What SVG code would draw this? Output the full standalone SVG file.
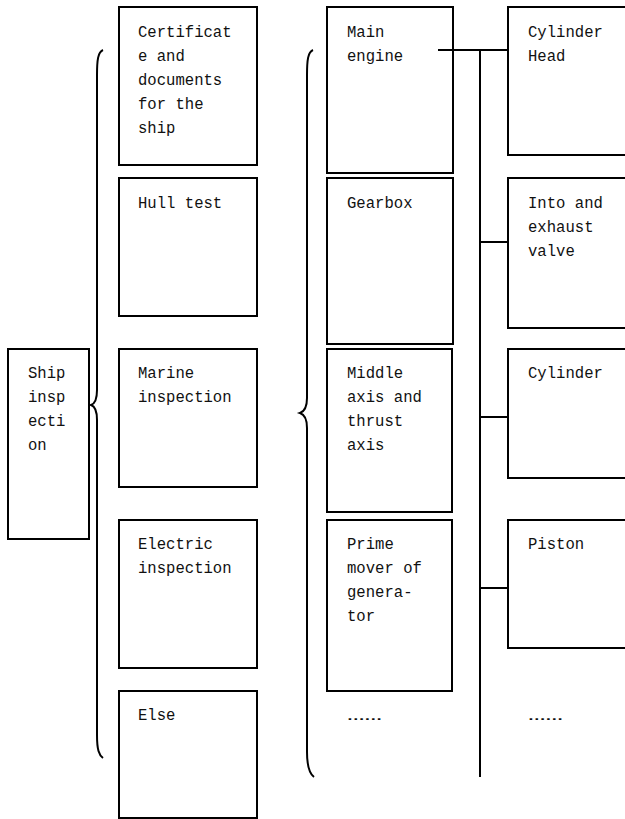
<svg xmlns="http://www.w3.org/2000/svg" width="625" height="819" viewBox="0 0 625 819">
<style>
.box{fill:#fff;stroke:#000;stroke-width:2}
.t{font-family:"Liberation Mono","DejaVu Sans Mono",monospace;font-size:15.6px;fill:#111}
.ln{fill:none;stroke:#000;stroke-width:2}
</style>
<rect width="625" height="819" fill="#fff"/>
<g id="ship">
<rect class="box" x="8" y="349" width="81" height="190"/>
<text class="t"><tspan x="28" y="378">Ship</tspan><tspan x="28" y="402">insp</tspan><tspan x="28" y="426">ecti</tspan><tspan x="28" y="450">on</tspan></text>
</g>
<g id="certificate">
<rect class="box" x="119" y="7" width="138" height="158"/>
<text class="t"><tspan x="138" y="37">Certificat</tspan><tspan x="138" y="61">e and</tspan><tspan x="138" y="85">documents</tspan><tspan x="138" y="109">for the</tspan><tspan x="138" y="133">ship</tspan></text>
</g>
<g id="hull">
<rect class="box" x="119" y="178" width="138" height="138"/>
<text class="t" x="138" y="208">Hull test</text>
</g>
<g id="marine">
<rect class="box" x="119" y="349" width="138" height="138"/>
<text class="t"><tspan x="138" y="378">Marine</tspan><tspan x="138" y="402">inspection</tspan></text>
</g>
<g id="electric">
<rect class="box" x="119" y="520" width="138" height="148"/>
<text class="t"><tspan x="138" y="549">Electric</tspan><tspan x="138" y="573">inspection</tspan></text>
</g>
<g id="else">
<rect class="box" x="119" y="691" width="138" height="127"/>
<text class="t" x="138" y="720">Else</text>
</g>
<g id="mainengine">
<rect class="box" x="327" y="7" width="126" height="166"/>
<text class="t"><tspan x="347" y="37">Main</tspan><tspan x="347" y="61">engine</tspan></text>
</g>
<g id="gearbox">
<rect class="box" x="327" y="178" width="126" height="166"/>
<text class="t" x="347" y="208">Gearbox</text>
</g>
<g id="middleaxis">
<rect class="box" x="327" y="349" width="125" height="163"/>
<text class="t"><tspan x="347" y="378">Middle</tspan><tspan x="347" y="402">axis and</tspan><tspan x="347" y="426">thrust</tspan><tspan x="347" y="450">axis</tspan></text>
</g>
<g id="primemover">
<rect class="box" x="327" y="520" width="125" height="171"/>
<text class="t"><tspan x="347" y="549">Prime</tspan><tspan x="347" y="573">mover of</tspan><tspan x="347" y="597">genera-</tspan><tspan x="347" y="621">tor</tspan></text>
</g>
<g id="dots1">
<text class="t" x="347" y="720" textLength="35" lengthAdjust="spacingAndGlyphs">……</text>
</g>
<g id="cylinderhead">
<rect class="box" x="508" y="7" width="130" height="148"/>
<text class="t"><tspan x="528" y="37">Cylinder</tspan><tspan x="528" y="61">Head</tspan></text>
</g>
<g id="valve">
<rect class="box" x="508" y="178" width="130" height="150"/>
<text class="t"><tspan x="528" y="208">Into and</tspan><tspan x="528" y="232">exhaust</tspan><tspan x="528" y="256">valve</tspan></text>
</g>
<g id="cylinder">
<rect class="box" x="508" y="349" width="130" height="129"/>
<text class="t" x="528" y="378">Cylinder</text>
</g>
<g id="piston">
<rect class="box" x="508" y="520" width="130" height="128"/>
<text class="t" x="528" y="549">Piston</text>
</g>
<g id="dots2">
<text class="t" x="528" y="720" textLength="35" lengthAdjust="spacingAndGlyphs">……</text>
</g>
<g id="connectors">
<path class="ln" d="M103,50 C98,52 97,60 97,75 L97,390 C97,400 94,404 91,405 C94,406 97,410 97,420 L97,735 C97,750 99,755 103,758"/>
<path class="ln" d="M313,50 C308,52 307,60 307,75 L307,398 C307,408 303,412 300,413 C303,414 307,418 307,428 L307,752 C307,768 310,774 314,777"/>
<line class="ln" x1="480" y1="50" x2="480" y2="777"/>
<line class="ln" x1="438" y1="50" x2="508" y2="50"/>
<line class="ln" x1="480" y1="242" x2="508" y2="242"/>
<line class="ln" x1="480" y1="417" x2="508" y2="417"/>
<line class="ln" x1="480" y1="588" x2="508" y2="588"/>
</g>
</svg>
